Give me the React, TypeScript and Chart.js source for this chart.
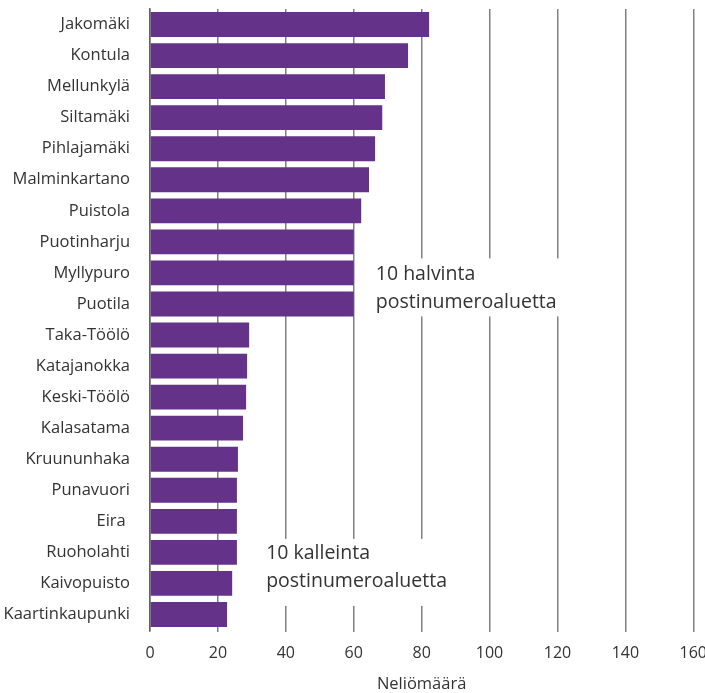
import React, { useEffect, useRef } from "react";
import { Chart, registerables } from "chart.js";

Chart.register(...registerables);

const categories = [
  "Jakomäki", "Kontula", "Mellunkylä", "Siltamäki", "Pihlajamäki",
  "Malminkartano", "Puistola", "Puotinharju", "Myllypuro", "Puotila",
  "Taka-Töölö", "Katajanokka", "Keski-Töölö", "Kalasatama", "Kruununhaka",
  "Punavuori", "Eira ", "Ruoholahti", "Kaivopuisto", "Kaartinkaupunki",
];
const values = [
  82.2, 76, 69.2, 68.4, 66.3, 64.5, 62.2, 60, 60, 60,
  29.2, 28.6, 28.3, 27.4, 25.9, 25.6, 25.6, 25.6, 24.2, 22.7,
];
const xTicks = [0, 20, 40, 60, 80, 100, 120, 140, 160];
const xTitle = "Neliömäärä";
const cheapNote = ["10 halvinta", "postinumeroaluetta"];
const expensiveNote = ["10 kalleinta", "postinumeroaluetta"];

const FONT = "'Open Sans', 'Noto Sans', sans-serif";
const TEXT = "#333333";

const notesPlugin = {
  id: "notes",
  afterDraw(chart: any) {
    const { ctx, scales } = chart;
    const xs = scales.x;
    const ys = scales.y;
    const notes = [
      { lines: cheapNote, xv: 66.5, row: 8, top: 16, bottom: 42 },
      { lines: expensiveNote, xv: 34.2, row: 17, top: 15, bottom: 52 },
    ];
    ctx.save();
    ctx.font = `19.5px ${FONT}`;
    ctx.textBaseline = "middle";
    ctx.textAlign = "left";
    for (const n of notes) {
      const x = xs.getPixelForValue(n.xv);
      const y0 = ys.getPixelForValue(n.row) + 1.5;
      const lh = 28;
      const w = Math.max(...n.lines.map((l: string) => ctx.measureText(l).width));
      ctx.fillStyle = "#ffffff";
      ctx.fillRect(x - 8, y0 - n.top, w + 14, n.top + n.bottom);
      ctx.fillStyle = TEXT;
      n.lines.forEach((l: string, i: number) => ctx.fillText(l, x, y0 + i * lh));
    }
    ctx.restore();
  },
};

export default function App() {
  const ref = useRef<HTMLCanvasElement>(null);
  useEffect(() => {
    if (!ref.current) return;
    const chart = new Chart(ref.current, {
      type: "bar",
      data: {
        labels: categories,
        datasets: [
          {
            data: values,
            backgroundColor: "#653289",
            categoryPercentage: 1,
            barPercentage: 0.8,
          },
        ],
      },
      options: {
        indexAxis: "y",
        animation: false,
        responsive: false,
        layout: { padding: { top: 9, left: 0, right: 0, bottom: 0 } },
        plugins: { legend: { display: false }, tooltip: { enabled: false } },
        scales: {
          x: {
            min: 0,
            max: 160,
            afterBuildTicks: (s: any) => {
              s.ticks = xTicks.map((v) => ({ value: v }));
            },
            grid: { color: "#808080", lineWidth: 1.5, tickLength: 2, drawTicks: true, tickColor: "#808080" },
            border: { display: false },
            ticks: { color: TEXT, font: { family: FONT, size: 16 }, padding: 12, maxRotation: 0 },
            title: { display: true, text: xTitle, color: TEXT, font: { family: FONT, size: 16.5 }, padding: { top: 4, bottom: -1 } },
            afterFit: (s: any) => {
              s.height = 63;
            },
          },
          y: {
            grid: { display: false },
            border: { display: true, color: "#606060", width: 1.5 },
            ticks: { color: TEXT, font: { family: FONT, size: 16.5 }, padding: 12 },
            afterFit: (s: any) => {
              s.width = 150;
              s.paddingTop = 0;
              s.paddingBottom = 0;
            },
          },
        },
      },
      plugins: [notesPlugin],
    });
    return () => chart.destroy();
  }, []);
  return (
    <div style={{ position: "fixed", left: 0, top: 0, width: 705, height: 693, overflow: "hidden", background: "#fff" }}>
      <canvas ref={ref} width={719} height={693} style={{ display: "block" }} />
    </div>
  );
}
